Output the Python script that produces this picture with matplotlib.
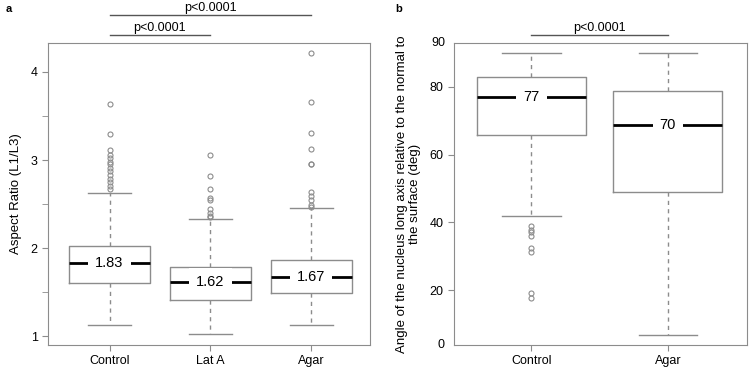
import matplotlib.pyplot as plt

plt.rcParams['font.family'] = ['Liberation Sans', 'DejaVu Sans']
plt.rcParams['font.size'] = 9

GREY = '#8c8c8c'

# panel a: aspect ratio
groups_a = ['Control', 'Lat A', 'Agar']
q1_a = [1.60, 1.41, 1.49]
med_a = [1.83, 1.62, 1.67]
q3_a = [2.02, 1.78, 1.87]
lo_a = [1.13, 1.03, 1.13]
hi_a = [2.63, 2.33, 2.46]
med_lbl_a = ['1.83', '1.62', '1.67']
out_a = [
    [3.64, 3.29, 3.11, 3.06, 3.02, 2.98, 2.95, 2.91, 2.87, 2.83, 2.79, 2.75, 2.71, 2.67],
    [3.06, 2.82, 2.67, 2.57, 2.55, 2.44, 2.40, 2.37, 2.35],
    [4.21, 3.66, 3.31, 3.12, 2.96, 2.95, 2.64, 2.59, 2.55, 2.49, 2.47],
]

# panel b: angle
groups_b = ['Control', 'Agar']
q1_b = [65.9, 49.1]
med_b = [76.9, 68.8]
q3_b = [82.8, 78.7]
lo_b = [41.8, 6.9]
hi_b = [90.0, 90.0]
med_lbl_b = ['77', '70']
out_b = [
    [39.0, 37.8, 37.1, 36.1, 32.4, 31.2, 19.2, 17.7],
    [],
]


def make_stats(names, q1, med, q3, lo, hi, outs):
    return [dict(label=n, q1=a, med=m, q3=b, whislo=l, whishi=h, fliers=o)
            for n, a, m, b, l, h, o in zip(names, q1, med, q3, lo, hi, outs)]


def draw_box(ax, stats, labels):
    ax.bxp(stats, widths=0.8, capwidths=0.43,
           boxprops=dict(color=GREY, lw=1),
           whiskerprops=dict(color=GREY, lw=1, ls=(0, (3, 3))),
           capprops=dict(color=GREY, lw=1),
           medianprops=dict(color='black', lw=2),
           flierprops=dict(marker='o', ms=3.6, mfc='none', mec=GREY, mew=0.8))
    # median value written on the median line
    for i, (s, t) in enumerate(zip(stats, labels)):
        ax.text(i + 1, s['med'], t, ha='center', va='center', fontsize=10.5,
                bbox=dict(fc='white', ec='none', pad=5), zorder=5)
    for sp in ax.spines.values():
        sp.set_color(GREY)
    ax.tick_params(colors=GREY, labelcolor='black', length=4, labelsize=9)


def bracket(ax, x1, x2, y, text):
    ax.plot([x1, x2], [y, y], color='#555555', lw=1, clip_on=False,
            transform=ax.get_xaxis_transform())
    ax.text((x1 + x2) / 2, y + 0.004, text, ha='center', va='bottom',
            fontsize=9, transform=ax.get_xaxis_transform())


fig = plt.figure(figsize=(7.5, 3.68), dpi=100)

# ---- a
ax1 = fig.add_axes([0.064, 0.0625, 0.429, 0.821])
draw_box(ax1, make_stats(groups_a, q1_a, med_a, q3_a, lo_a, hi_a, out_a), med_lbl_a)
ax1.set_xlim(0.39, 3.58)
ax1.set_ylim(0.9, 4.33)
ax1.set_yticks([1, 2, 3, 4])
ax1.set_yticks([1.5, 2.5, 3.5], minor=True)
ax1.tick_params(axis='y', which='minor', colors=GREY, length=4)
ax1.set_xticks([1, 2, 3], groups_a)
ax1.set_ylabel('Aspect Ratio (L1/L3)', fontsize=9.5, labelpad=6)
bracket(ax1, 1, 2, 1.027, 'p<0.0001')
bracket(ax1, 1, 3, 1.093, 'p<0.0001')
fig.text(0.008, 0.988, 'a', fontweight='bold', fontsize=8, va='top')

# ---- b
ax2 = fig.add_axes([0.605, 0.0625, 0.391, 0.821])
draw_box(ax2, make_stats(groups_b, q1_b, med_b, q3_b, lo_b, hi_b, out_b), med_lbl_b)
ax2.set_xlim(0.43, 2.58)
ax2.set_ylim(3.9, 92.9)
ax2.set_yticks([20, 40, 60, 80])
ax2.set_xticks([1, 2], groups_b)
# end labels without tick marks, as in the original
ax2.text(-0.03, 0.0, '0', transform=ax2.transAxes, ha='right', va='center', fontsize=9)
ax2.text(-0.03, 1.0, '90', transform=ax2.transAxes, ha='right', va='center', fontsize=9)
ax2.set_ylabel('Angle of the nucleus long axis relative to the normal to\nthe surface (deg)',
               fontsize=9.5, labelpad=6, linespacing=1.1)
bracket(ax2, 1, 2, 1.027, 'p<0.0001')
fig.text(0.527, 0.988, 'b', fontweight='bold', fontsize=8, va='top')

fig.savefig('out.png', dpi=100)
